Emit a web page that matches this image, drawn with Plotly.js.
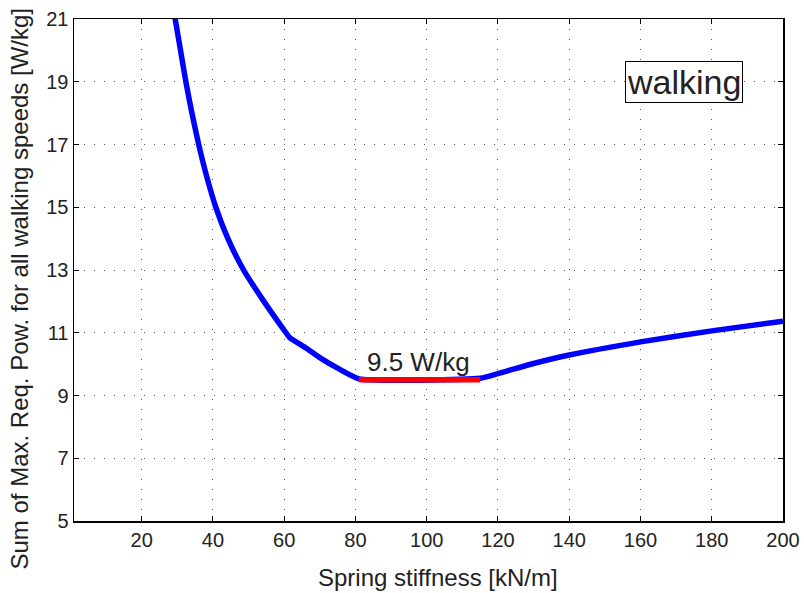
<!DOCTYPE html>
<html>
<head>
<meta charset="utf-8">
<script src="https://cdn.plot.ly/plotly-3.0.1.min.js"></script>
<style>html,body{margin:0;padding:0;background:#fff;}#chart{width:804px;height:593px;}</style>
</head>
<body>
<div id="chart"></div>
<script>
// Blue curve: sum of max required power vs spring stiffness
const stiffness = [28.8, 30.9, 32.4, 34.1, 36.0, 38.2, 40.8, 44.2, 48.6, 54.3, 60.5, 61.5, 66.0, 70.2, 75.0, 81.0, 115.0, 120.0, 130.0, 140.0, 160.0, 180.0, 200.0];
const power     = [21.4, 20.0, 19.0, 18.0, 17.0, 16.0, 15.0, 14.0, 13.0, 12.0, 11.0, 10.85, 10.52, 10.19, 9.87, 9.53, 9.55, 9.70, 10.02, 10.29, 10.71, 11.06, 11.37];
// Red optimal segment
const optStiffness = [81.0, 115.0];
const optPower     = [9.5, 9.5];
// Tick labels
const xTicks = [20, 40, 60, 80, 100, 120, 140, 160, 180, 200];
const yTicks = [5, 7, 9, 11, 13, 15, 17, 19, 21];
const optLabel = "9.5 W/kg";
const panelLabel = "walking";
const xTitle = "Spring stiffness [kN/m]";
const yTitle = "Sum of Max. Req. Pow. for all walking speeds [W/kg]";

const FONT = '"Liberation Sans", Arial, Helvetica, sans-serif';

const traces = [
  {x: stiffness, y: power, type: 'scatter', mode: 'lines',
   line: {color: '#0000ff', width: 5.5, shape: 'spline', smoothing: 0.5}, hoverinfo: 'skip'},
  {x: optStiffness, y: optPower, type: 'scatter', mode: 'lines',
   line: {color: '#ff0000', width: 5.5}, hoverinfo: 'skip'}
];

const axisCommon = {
  showline: true, mirror: 'ticks', linecolor: '#000', linewidth: 1.5,
  ticks: 'inside', ticklen: 5, tickwidth: 1, tickcolor: '#000',
  showgrid: true, gridcolor: '#555', gridwidth: 1, griddash: '1px,9px',
  zeroline: false,
  tickfont: {family: FONT, size: 20, color: '#222'}
};

const layout = {
  width: 804, height: 593,
  margin: {l: 74, r: 21, t: 19, b: 72},
  paper_bgcolor: '#fff', plot_bgcolor: '#fff',
  showlegend: false,
  font: {family: FONT, color: '#222'},
  xaxis: Object.assign({}, axisCommon, {
    range: [1, 200], tickmode: 'array', tickvals: xTicks,
    ticktext: xTicks.map(String)
  }),
  yaxis: Object.assign({}, axisCommon, {
    range: [5, 21], tickmode: 'array', tickvals: yTicks,
    ticktext: yTicks.map(String)
  }),
  annotations: [
    {x: 172.2, y: 19, xref: 'x', yref: 'y', text: panelLabel, showarrow: false,
     font: {family: FONT, size: 34, color: '#222'},
     bordercolor: '#000', borderwidth: 1, borderpad: 1, bgcolor: '#fff'},
    {x: 97.6, y: 10.07, xref: 'x', yref: 'y', text: optLabel, showarrow: false,
     font: {family: FONT, size: 26, color: '#222'}},
    {x: 0.5134, y: -0.1135, xref: 'paper', yref: 'paper', text: xTitle, showarrow: false,
     xanchor: 'center', yanchor: 'middle',
     font: {family: FONT, size: 24, color: '#222'}},
    {x: -0.0762, y: 0.463, xref: 'paper', yref: 'paper', text: yTitle, showarrow: false,
     textangle: -90, xanchor: 'center', yanchor: 'middle',
     font: {family: FONT, size: 24, color: '#222'}}
  ]
};

Plotly.newPlot('chart', traces, layout, {staticPlot: true, displayModeBar: false});
</script>
</body>
</html>
